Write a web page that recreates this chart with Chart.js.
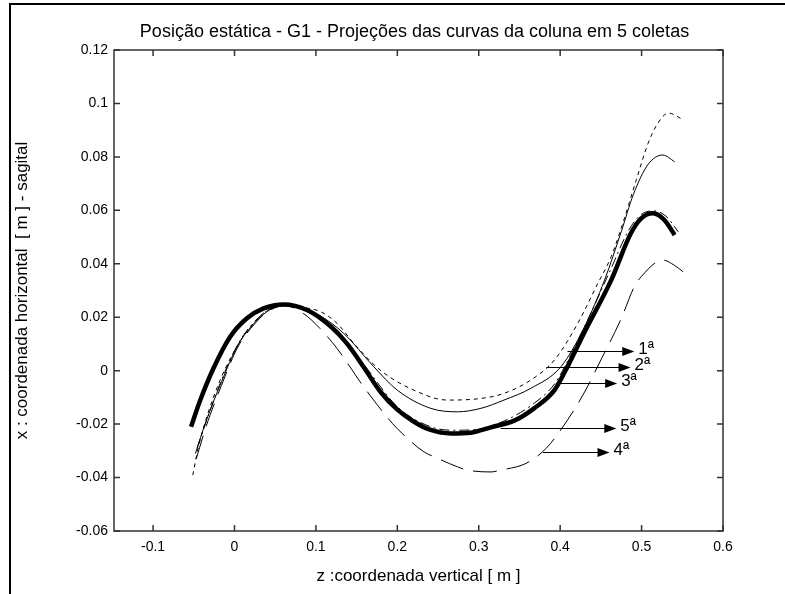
<!DOCTYPE html>
<html>
<head>
<meta charset="utf-8">
<script src="https://cdn.jsdelivr.net/npm/chart.js@4.4.1/dist/chart.umd.min.js"></script>
<style>
  html, body { margin: 0; padding: 0; background: #fff; }
  #wrap { position: relative; width: 785px; height: 594px; overflow: hidden; }
  #frame { position: absolute; left: 9px; top: 3px; width: 800px; height: 600px; border-left: 2px solid #000; border-top: 2px solid #000; }
  #chart { position: absolute; left: 0; top: 0; }
</style>
</head>
<body>
<div id="wrap">
  <div id="frame"></div>
  <canvas id="chart" width="785" height="594"></canvas>
</div>
<script>
// z : coordenada vertical [m]  /  x : coordenada horizontal [m]
const coleta1Z = [-0.048, -0.035, -0.016, 0.004, 0.02, 0.04, 0.062, 0.085, 0.105, 0.134, 0.171, 0.2, 0.241, 0.274, 0.3026, 0.331, 0.364, 0.401, 0.43, 0.4545, 0.475, 0.49, 0.508, 0.526, 0.5406];
const coleta1X = [-0.031, -0.019, -0.0042, 0.0095, 0.0163, 0.0221, 0.0245, 0.0233, 0.0206, 0.014, 0.0015, -0.0073, -0.0141, -0.0154, -0.0141, -0.011, -0.0066, 0.0015, 0.0165, 0.0339, 0.052, 0.066, 0.0772, 0.0807, 0.0782];

const coleta2Z = [-0.0512, -0.0443, -0.034, -0.0176, 0.003, 0.02, 0.04, 0.062, 0.085, 0.1055, 0.126, 0.1466, 0.179, 0.2204, 0.2616, 0.3026, 0.331, 0.364, 0.393, 0.4216, 0.446, 0.4627, 0.477, 0.4935, 0.508, 0.52, 0.533, 0.551];
const coleta2X = [-0.0391, -0.0285, -0.0173, -0.0035, 0.009, 0.0165, 0.0225, 0.0245, 0.0236, 0.0221, 0.0177, 0.0102, 0.0002, -0.0073, -0.011, -0.0104, -0.0085, -0.0035, 0.004, 0.0177, 0.0325, 0.0427, 0.0552, 0.0714, 0.0851, 0.0926, 0.0964, 0.0939];

const coleta3Z = [-0.046, -0.033, -0.015, 0.005, 0.02, 0.04, 0.062, 0.09, 0.118, 0.159, 0.2, 0.241, 0.27, 0.3, 0.335, 0.368, 0.393, 0.409, 0.43, 0.46, 0.485, 0.5, 0.515, 0.53, 0.545];
const coleta3X = [-0.029, -0.0175, -0.0028, 0.0103, 0.0168, 0.0224, 0.0246, 0.0226, 0.0168, 0.0022, -0.0135, -0.021, -0.0223, -0.0219, -0.0183, -0.0122, -0.005, 0.0035, 0.0165, 0.0365, 0.053, 0.0585, 0.0598, 0.0578, 0.052];

const coleta4Z = [-0.047, -0.035, -0.016, 0.004, 0.02, 0.04, 0.062, 0.085, 0.105, 0.126, 0.1446, 0.1527, 0.1938, 0.206, 0.2327, 0.245, 0.274, 0.286, 0.315, 0.327, 0.358, 0.383, 0.409, 0.43, 0.45, 0.475, 0.491, 0.4996, 0.526, 0.54, 0.551];
const coleta4X = [-0.033, -0.021, -0.0055, 0.0088, 0.0158, 0.0219, 0.0243, 0.0213, 0.0158, 0.0083, 0.0002, -0.0035, -0.0197, -0.0235, -0.0304, -0.0322, -0.036, -0.0372, -0.0379, -0.0372, -0.0347, -0.029, -0.0185, -0.008, 0.004, 0.0195, 0.0314, 0.0352, 0.0414, 0.0395, 0.037];

const coleta5Z = [-0.0534, -0.042, -0.0258, -0.0053, 0.0153, 0.0357, 0.0603, 0.089, 0.118, 0.138, 0.159, 0.179, 0.2, 0.2204, 0.241, 0.2656, 0.29, 0.315, 0.3436, 0.368, 0.393, 0.409, 0.43, 0.4627, 0.487, 0.4996, 0.514, 0.528, 0.5406];
const coleta5X = [-0.021, -0.011, 0.0009, 0.0127, 0.0196, 0.0233, 0.0248, 0.0227, 0.0166, 0.0102, 0.0012, -0.0078, -0.0146, -0.0191, -0.0222, -0.0235, -0.0232, -0.0212, -0.0187, -0.0141, -0.0073, 0.0015, 0.0145, 0.0339, 0.0515, 0.057, 0.0589, 0.0564, 0.0508];

// arrows pointing to each curve (tail on the curve, head to the right)
const arrowLabels = ['1ª', '2ª', '3ª', '5ª', '4ª'];
const arrowTailZ = [0.409, 0.383, 0.395, 0.327, 0.379];
const arrowHeadZ = [0.491, 0.4865, 0.470, 0.469, 0.4606];
const arrowX = [0.0075, 0.0012, -0.0048, -0.0214, -0.0306];

const zTicks = [-0.1, 0, 0.1, 0.2, 0.3, 0.4, 0.5, 0.6];
const xTicks = [-0.06, -0.04, -0.02, 0, 0.02, 0.04, 0.06, 0.08, 0.1, 0.12];

const chartTitle = 'Posição estática - G1 - Projeções das curvas da coluna em 5 coletas';

const FONT = "'Liberation Sans', Arial, sans-serif";

function pts(zs, xs) {
  return zs.map((z, i) => ({ x: z, y: xs[i] }));
}

// MATLAB-like box with inward ticks on all four sides, plus the title over the axes
const axesBox = {
  id: 'axesBox',
  afterDatasetsDraw(chart) {
    const { ctx, chartArea: a, scales: { x, y } } = chart;
    ctx.save();
    ctx.strokeStyle = '#333';
    ctx.lineWidth = 1.5;
    ctx.strokeRect(a.left, a.top, a.right - a.left, a.bottom - a.top);
    ctx.beginPath();
    x.ticks.forEach(t => {
      const p = x.getPixelForValue(t.value);
      ctx.moveTo(p, a.bottom); ctx.lineTo(p, a.bottom - 6);
      ctx.moveTo(p, a.top); ctx.lineTo(p, a.top + 6);
    });
    y.ticks.forEach(t => {
      const p = y.getPixelForValue(t.value);
      ctx.moveTo(a.left, p); ctx.lineTo(a.left + 6, p);
      ctx.moveTo(a.right, p); ctx.lineTo(a.right - 6, p);
    });
    ctx.stroke();

    ctx.fillStyle = '#000';
    ctx.font = '18px ' + FONT;
    ctx.textAlign = 'center';
    ctx.textBaseline = 'middle';
    ctx.fillText(chartTitle, (a.left + a.right) / 2 - 4, a.top - 18);
    ctx.restore();
  }
};

const arrows = {
  id: 'arrows',
  afterDatasetsDraw(chart) {
    const { ctx, scales: { x, y } } = chart;
    ctx.save();
    ctx.strokeStyle = '#000';
    ctx.fillStyle = '#000';
    ctx.lineWidth = 1;
    ctx.font = '17px ' + FONT;
    ctx.textBaseline = 'middle';
    arrowLabels.forEach((lab, i) => {
      const x0 = x.getPixelForValue(arrowTailZ[i]);
      const x1 = x.getPixelForValue(arrowHeadZ[i]);
      const py = Math.round(y.getPixelForValue(arrowX[i])) + 0.5;
      ctx.beginPath();
      ctx.moveTo(x0, py); ctx.lineTo(x1 - 10, py);
      ctx.stroke();
      ctx.beginPath();
      ctx.moveTo(x1, py); ctx.lineTo(x1 - 12, py - 4.5); ctx.lineTo(x1 - 12, py + 4.5);
      ctx.closePath();
      ctx.fill();
      ctx.fillText(lab, x1 + 4, py - 2);
    });
    ctx.restore();
  }
};

const common = { fill: false, pointRadius: 0, borderColor: '#000', cubicInterpolationMode: 'monotone' };

new Chart(document.getElementById('chart'), {
  type: 'line',
  data: {
    datasets: [
      { ...common, label: '1ª', data: pts(coleta1Z, coleta1X), borderWidth: 1 },
      { ...common, label: '2ª', data: pts(coleta2Z, coleta2X), borderWidth: 1, borderDash: [4, 4] },
      { ...common, label: '3ª', data: pts(coleta3Z, coleta3X), borderWidth: 1, borderDash: [10, 4, 2, 4] },
      { ...common, label: '4ª', data: pts(coleta4Z, coleta4X), borderWidth: 1, borderDash: [24, 10] },
      { ...common, label: '5ª', data: pts(coleta5Z, coleta5X), borderWidth: 4.5 }
    ]
  },
  options: {
    responsive: false,
    animation: false,
    devicePixelRatio: 1,
    layout: { padding: { left: 0, right: 62, top: 50, bottom: 0 } },
    plugins: {
      legend: { display: false },
      tooltip: { enabled: false },
      title: { display: false }
    },
    scales: {
      x: {
        type: 'linear',
        min: -0.148,
        max: 0.6,
        afterBuildTicks: s => { s.ticks = zTicks.map(v => ({ value: v })); },
        afterFit: s => { s.height = 63; },
        grid: { display: false, drawTicks: false },
        border: { display: false },
        ticks: { color: '#000', padding: 8, maxRotation: 0, font: { family: FONT, size: 14 }, callback: v => String(v) },
        title: { display: true, text: 'z :coordenada vertical [ m ]', color: '#000', font: { family: FONT, size: 17 }, padding: { top: 0, bottom: 7 } }
      },
      y: {
        type: 'linear',
        min: -0.06,
        max: 0.12,
        afterBuildTicks: s => { s.ticks = xTicks.map(v => ({ value: v })); },
        afterFit: s => { s.width = 114; },
        grid: { display: false, drawTicks: false },
        border: { display: false },
        ticks: { color: '#000', padding: 6, font: { family: FONT, size: 14 }, callback: v => String(v) },
        title: { display: true, text: 'x : coordenada horizontal  [ m ] - sagital', color: '#000', font: { family: FONT, size: 17 }, padding: { top: 12, bottom: 0 } }
      }
    }
  },
  plugins: [axesBox, arrows]
});
</script>
</body>
</html>
